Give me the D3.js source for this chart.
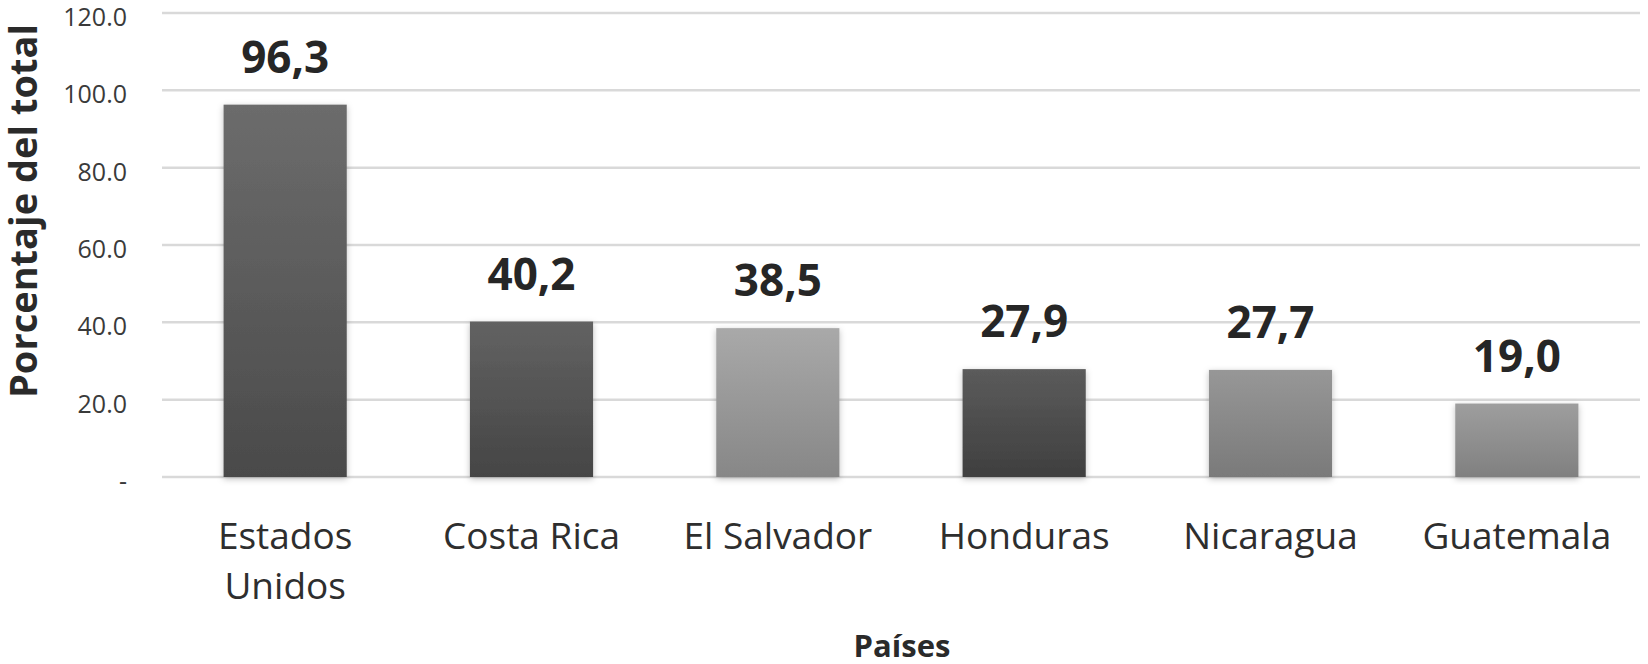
<!DOCTYPE html>
<html>
<head>
<meta charset="utf-8">
<script src="https://cdn.jsdelivr.net/npm/d3@7"></script>
<style>
    body { margin: 0; background: #fff; }
    text { font-family: "Open Sans", sans-serif; }
    .tick-label { font-size: 25px; fill: #3a3a3a; }
    .cat-label { font-size: 37px; fill: #2e2e2e; }
    .value-label { font-size: 44px; font-weight: 700; fill: #262626; }
    .axis-title { font-size: 31px; font-weight: 700; fill: #2a2a2a; }
    .axis-title.y { font-size: 38px; }
</style>
</head>
<body>
<div id="chart"></div>
<script>

// data
var countries = ["Estados Unidos", "Costa Rica", "El Salvador", "Honduras", "Nicaragua", "Guatemala"];
var values = [96.3, 40.2, 38.5, 27.9, 27.7, 19.0];
var valueLabels = ["96,3", "40,2", "38,5", "27,9", "27,7", "19,0"];
var yTicks = [0, 20, 40, 60, 80, 100, 120];

// gradient stops per bar (top, bottom)
var barTop = ["#6c6c6c", "#626262", "#a9a9a9", "#5b5b5b", "#979797", "#9e9e9e"];
var barBottom = ["#4a4a4a", "#454545", "#878787", "#3f3f3f", "#7a7a7a", "#808080"];

var width = 1648, height = 664;
var margin = { top: 13, right: 8, bottom: 187, left: 162 };

var svg = d3.select("#chart").append("svg")
    .attr("width", width)
    .attr("height", height);

var defs = svg.append("defs");

var shadow = defs.append("filter")
    .attr("id", "shadow")
    .attr("x", "-10%").attr("y", "-10%")
    .attr("width", "120%").attr("height", "120%");
shadow.append("feDropShadow")
    .attr("dx", 0).attr("dy", 2)
    .attr("stdDeviation", 3)
    .attr("flood-color", "#000")
    .attr("flood-opacity", 0.25);

countries.forEach(function(c, i) {
    var g = defs.append("linearGradient")
        .attr("id", "grad" + i)
        .attr("x1", 0).attr("y1", 0)
        .attr("x2", 0).attr("y2", 1);
    g.append("stop").attr("offset", "0%").attr("stop-color", barTop[i]);
    g.append("stop").attr("offset", "100%").attr("stop-color", barBottom[i]);
});

var x = d3.scaleBand()
    .domain(countries)
    .range([margin.left, width - margin.right])
    .paddingInner(0.5)
    .paddingOuter(0.25);

var y = d3.scaleLinear()
    .domain([0, 120])
    .range([height - margin.bottom, margin.top]);

// gridlines
svg.append("g")
    .attr("class", "grid")
    .selectAll("line")
    .data(yTicks)
    .enter().append("line")
    .attr("x1", margin.left)
    .attr("x2", width - margin.right)
    .attr("y1", function(d) { return y(d); })
    .attr("y2", function(d) { return y(d); })
    .attr("stroke", "#d9d9d9")
    .attr("stroke-width", 2.5);

// y tick labels
svg.append("g")
    .selectAll("text")
    .data(yTicks)
    .enter().append("text")
    .attr("class", "tick-label")
    .attr("x", margin.left - 35)
    .attr("y", function(d) { return y(d); })
    .attr("dy", "0.52em")
    .attr("text-anchor", "end")
    .text(function(d) { return d === 0 ? "-" : d3.format(".1f")(d); });

// bars
svg.append("g")
    .selectAll("rect")
    .data(values)
    .enter().append("rect")
    .attr("x", function(d, i) { return x(countries[i]); })
    .attr("y", function(d) { return y(d); })
    .attr("width", x.bandwidth())
    .attr("height", function(d) { return y(0) - y(d); })
    .attr("fill", function(d, i) { return "url(#grad" + i + ")"; })
    .attr("filter", "url(#shadow)");

// value labels
svg.append("g")
    .selectAll("text")
    .data(values)
    .enter().append("text")
    .attr("class", "value-label")
    .attr("x", function(d, i) { return x(countries[i]) + x.bandwidth() / 2; })
    .attr("y", function(d) { return y(d) - 32; })
    .attr("text-anchor", "middle")
    .text(function(d, i) { return valueLabels[i]; });

// category labels, "Estados Unidos" wraps on two lines
var cats = svg.append("g")
    .selectAll("text")
    .data(countries)
    .enter().append("text")
    .attr("class", "cat-label")
    .attr("text-anchor", "middle")
    .attr("x", function(d) { return x(d) + x.bandwidth() / 2; })
    .attr("y", 549);

cats.each(function(d) {
    var t = d3.select(this);
    var words = d === "Estados Unidos" ? ["Estados", "Unidos"] : [d];
    words.forEach(function(w, k) {
        t.append("tspan")
            .attr("x", t.attr("x"))
            .attr("dy", k === 0 ? 0 : 50)
            .text(w);
    });
});

// axis titles
svg.append("text")
    .attr("class", "axis-title y")
    .attr("text-anchor", "middle")
    .attr("transform", "translate(37," + 211 + ") rotate(-90)")
    .text("Porcentaje del total");

svg.append("text")
    .attr("class", "axis-title")
    .attr("text-anchor", "middle")
    .attr("x", (margin.left + width - margin.right) / 2 + 1)
    .attr("y", 657)
    .text("Países");

</script>
</body>
</html>
